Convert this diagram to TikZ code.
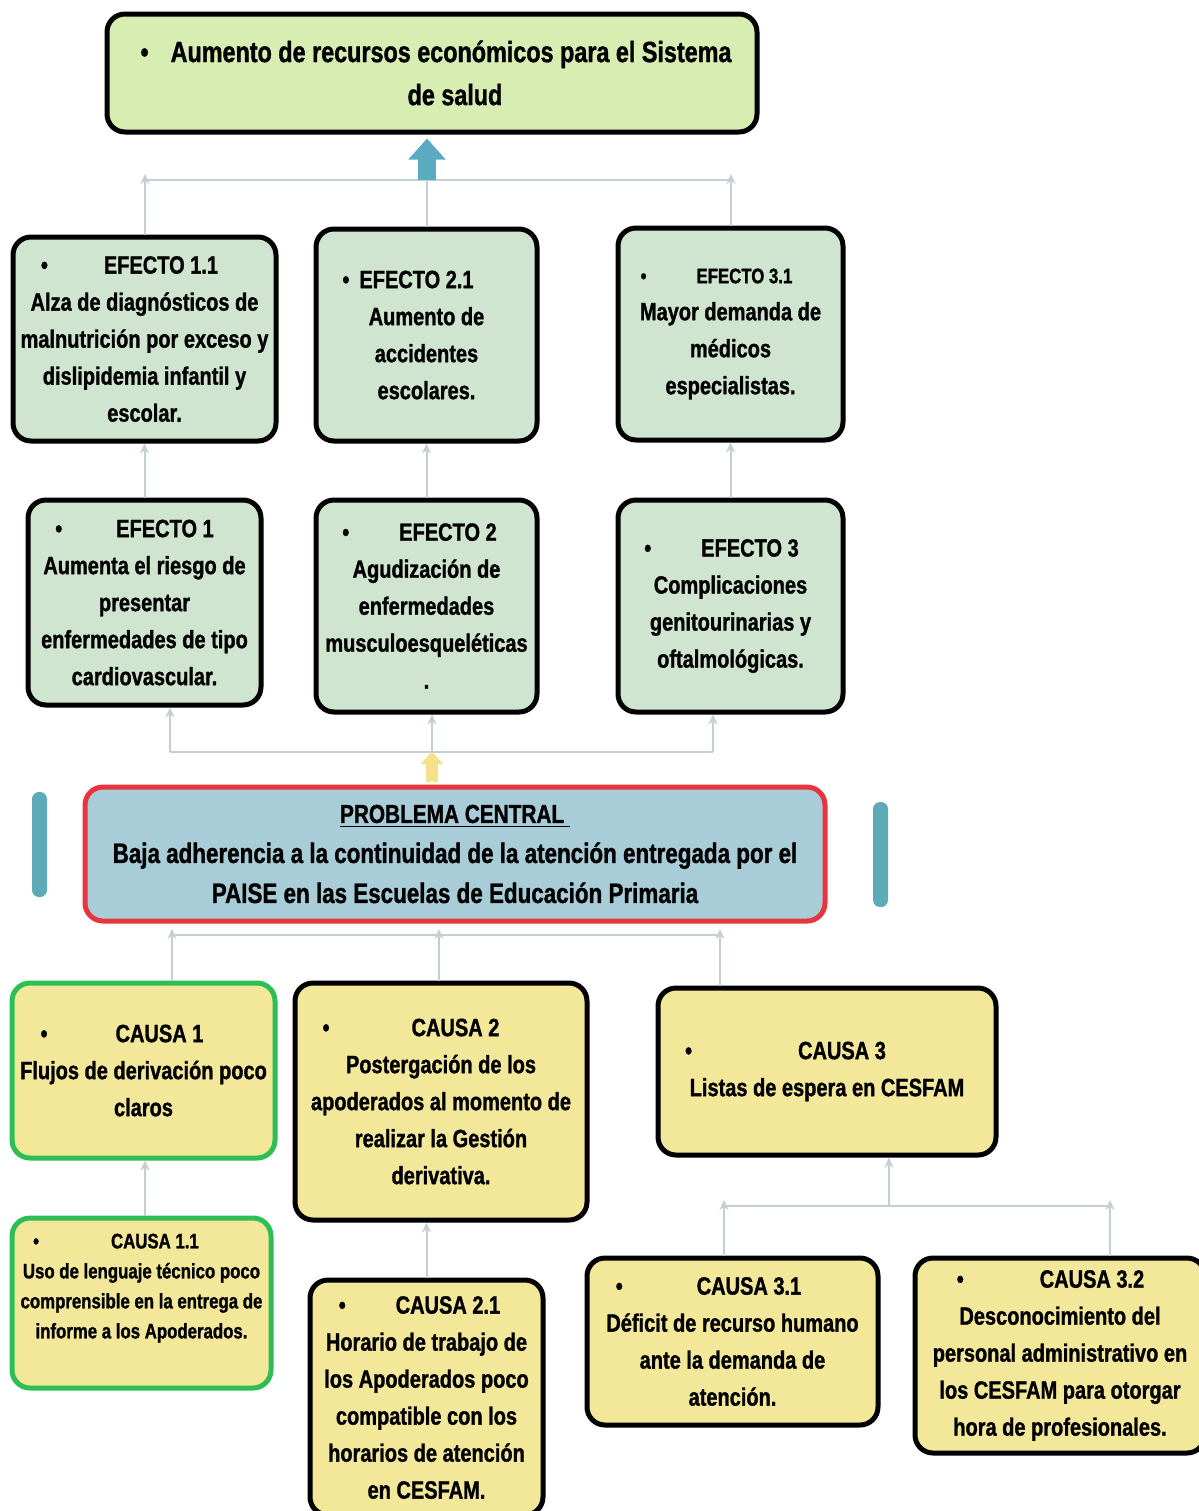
\documentclass[tikz,border=0pt]{standalone}
\usepackage{fontspec}
\setmainfont{Liberation Sans}[FakeStretch=0.8, BoldFeatures={FakeBold=1.2}]
\usetikzlibrary{arrows.meta}

\definecolor{verdeclaro}{HTML}{D7EDB2}
\definecolor{verdeefecto}{HTML}{D0E5CF}
\definecolor{azulproblema}{HTML}{A8CDD8}
\definecolor{rojoborde}{HTML}{E8343C}
\definecolor{amarillocausa}{HTML}{F3E799}
\definecolor{verdeborde}{HTML}{2DBE55}
\definecolor{grislinea}{HTML}{C3CFD3}
\definecolor{azulflecha}{HTML}{5AAAC0}
\definecolor{amarilloflecha}{HTML}{F6E08A}
\definecolor{barra}{HTML}{5FAAB9}

% bullet, gap, title, right compensation
\newcommand{\vineta}[3][0pt]{\textbullet\hspace{#2}#3\kern#1}

\tikzset{
  caja/.style={draw=black, line width=2.5pt, rounded corners=9pt, align=center,
    inner sep=2pt, font=\bfseries\fontsize{12.5}{18.5}\selectfont},
  efecto/.style={caja, fill=verdeefecto},
  causa/.style={caja, fill=amarillocausa},
  causaverde/.style={causa, draw=verdeborde},
  flecha/.style={draw=grislinea, line width=1pt, -{Stealth[length=5pt,width=4.5pt]}},
  linea/.style={draw=grislinea, line width=1pt}
}

\begin{document}
\begin{tikzpicture}[x=0.5pt, y=-0.5pt]
	\useasboundingbox[fill=white] (0,0) rectangle (1199,1511);
	% The final effect
	\node[caja, fill=verdeclaro, minimum width=325pt, minimum height=59pt,
	  font=\bfseries\fontsize{14.6}{21.5}\selectfont] (top) at (432,73)
	  {\vineta[-4pt]{11pt}{Aumento de recursos económicos para el Sistema}\\\kern23pt de salud};
	% Upper effects
	\node[efecto, minimum width=131.5pt, minimum height=102pt] (ef11) at (144.5,339)
	  {\vineta[15pt]{28pt}{EFECTO 1.1}\\Alza de diagnósticos de\\malnutrición por exceso y\\dislipidemia infantil y\\escolar.};
	\node[efecto, minimum width=110.5pt, minimum height=106pt] (ef21) at (426.5,335)
	  {\vineta[18.5pt]{5pt}{EFECTO 2.1}\\Aumento de\\accidentes\\escolares.};
	\node[efecto, minimum width=112.5pt, minimum height=106pt] (ef31) at (730.5,334)
	  {{\fontsize{10.5}{18.5}\selectfont\vineta[14pt]{25pt}{EFECTO 3.1}}\\Mayor demanda de\\médicos\\especialistas.};
	% Lower effects
	\node[efecto, minimum width=116.5pt, minimum height=102.5pt] (ef1) at (144.5,602.5)
	  {\vineta[10pt]{27pt}{EFECTO 1}\\Aumenta el riesgo de\\presentar\\enfermedades de tipo\\cardiovascular.};
	\node[efecto, minimum width=110.5pt, minimum height=106pt] (ef2) at (426.5,606)
	  {\vineta[7pt]{25pt}{EFECTO 2}\\Agudización de\\enfermedades\\musculoesqueléticas\\.};
	\node[efecto, minimum width=112.5pt, minimum height=106pt] (ef3) at (730.5,606)
	  {\vineta[9pt]{25pt}{EFECTO 3}\\Complicaciones\\genitourinarias y\\oftalmológicas.};
	% The central problem
	\node[caja, draw=rojoborde, fill=azulproblema, minimum width=370pt, minimum height=67pt,
	  font=\bfseries\fontsize{14}{20}\selectfont] (prob) at (455,854)
	  {{\fontsize{13}{20}\selectfont\underline{PROBLEMA CENTRAL\ }}\\Baja adherencia a la continuidad de la atención entregada por el\\PAISE en las Escuelas de Educación Primaria};
	\fill[barra, rounded corners=3.5pt] (32,792) rectangle (47,897);
	\fill[barra, rounded corners=3.5pt] (873,802) rectangle (888,907);
	% Causes
	\node[causaverde, minimum width=131.5pt, minimum height=87.5pt] (c1) at (143.5,1070.5)
	  {\vineta[21.5pt]{34pt}{CAUSA 1}\\Flujos de derivación poco\\claros};
	\node[causa, minimum width=146pt, minimum height=118.5pt] (c2) at (441,1101.5)
	  {\vineta[30pt]{41pt}{CAUSA 2}\\Postergación de los\\apoderados al momento de\\realizar la Gestión\\derivativa.};
	\node[causa, minimum width=169pt, minimum height=83.5pt] (c3) at (827,1071.5)
	  {\vineta[41.5pt]{53pt}{CAUSA 3}\\Listas de espera en CESFAM};
	% Sub-causes
	\node[causaverde, minimum width=129.5pt, minimum height=85pt,
	  font=\bfseries\fontsize{10.5}{15}\selectfont] (c11) at (141.5,1303)
	  {\vineta[25.5pt]{36pt}{CAUSA 1.1}\\Uso de lenguaje técnico poco\\comprensible en la entrega de\\informe a los Apoderados.\\[2pt]};
	\node[causa, minimum width=116.5pt, minimum height=117.5pt] (c21) at (426.5,1397.5)
	  {\vineta[7pt]{25pt}{CAUSA 2.1}\\Horario de trabajo de\\los Apoderados poco\\compatible con los\\horarios de atención\\en CESFAM.};
	\node[causa, minimum width=145.5pt, minimum height=83.5pt] (c31) at (732.5,1341.5)
	  {\vineta[24pt]{37pt}{CAUSA 3.1}\\Déficit de recurso humano\\ante la demanda de\\atención.};
	\node[causa, minimum width=145pt, minimum height=97.5pt] (c32) at (1060,1355.5)
	  {\vineta[9.5pt]{38pt}{CAUSA 3.2}\\Desconocimiento del\\personal administrativo en\\los CESFAM para otorgar\\hora de profesionales.};
	% Junctions
	\coordinate (jt1) at (145,180);
	\coordinate (jt) at (427,180);
	\coordinate (jt3) at (731,180);
	\coordinate (jm1) at (170,752);
	\coordinate (jm) at (432,752);
	\coordinate (jm3) at (713,752);
	\coordinate (jb1) at (172,935);
	\coordinate (jb2) at (439,935);
	\coordinate (jb3) at (720,935);
	\coordinate (jc1) at (724,1206);
	\coordinate (jc) at (889,1206);
	\coordinate (jc2) at (1110,1206);
	% Effects towards the final effect
	\draw[linea] (jt1) -- (jt3);
	\draw[flecha, shorten >=-3pt] (jt1 |- ef11.north) -- (jt1);
	\draw[flecha, shorten >=-3pt] (jt3 |- ef31.north) -- (jt3);
	\draw[linea] (jt |- ef21.north) -- (jt);
	\draw[azulflecha, line width=9pt, -{Triangle[width=18pt,length=10.5pt]}, shorten >=2pt] (jt) -- (top.south -| jt);
	\draw[flecha] (ef1.north) -- (ef11.south);
	\draw[flecha] (ef2.north) -- (ef21.south);
	\draw[flecha] (ef3.north) -- (ef31.south);
	% Problem towards the effects
	\draw[linea] (jm1) -- (jm3);
	\draw[flecha] (jm1) -- (jm1 |- ef1.south);
	\draw[flecha] (jm) -- (jm |- ef2.south);
	\draw[flecha] (jm3) -- (jm3 |- ef3.south);
	\draw[amarilloflecha, line width=6pt, -{Triangle[width=11pt,length=6pt]}, shorten <=1.5pt] (prob.north -| jm) -- (jm);
	% Causes towards the problem
	\draw[linea] (jb1) -- (jb3);
	\draw[flecha, shorten >=-3pt] (jb1 |- c1.north) -- (jb1);
	\draw[flecha, shorten >=-3pt] (jb2 |- c2.north) -- (jb2);
	\draw[flecha, shorten >=-3pt] (jb3 |- c3.north) -- (jb3);
	% Sub-causes towards the causes
	\draw[flecha] (c11.north -| jt1) -- (c1.south -| jt1);
	\draw[flecha] (c21.north) -- (c21.north |- c2.south);
	\draw[linea] (jc1) -- (jc2);
	\draw[flecha, shorten >=-3pt] (jc1 |- c31.north) -- (jc1);
	\draw[flecha, shorten >=-3pt] (jc2 |- c32.north) -- (jc2);
	\draw[flecha] (jc) -- (jc |- c3.south);
\end{tikzpicture}
\end{document}
